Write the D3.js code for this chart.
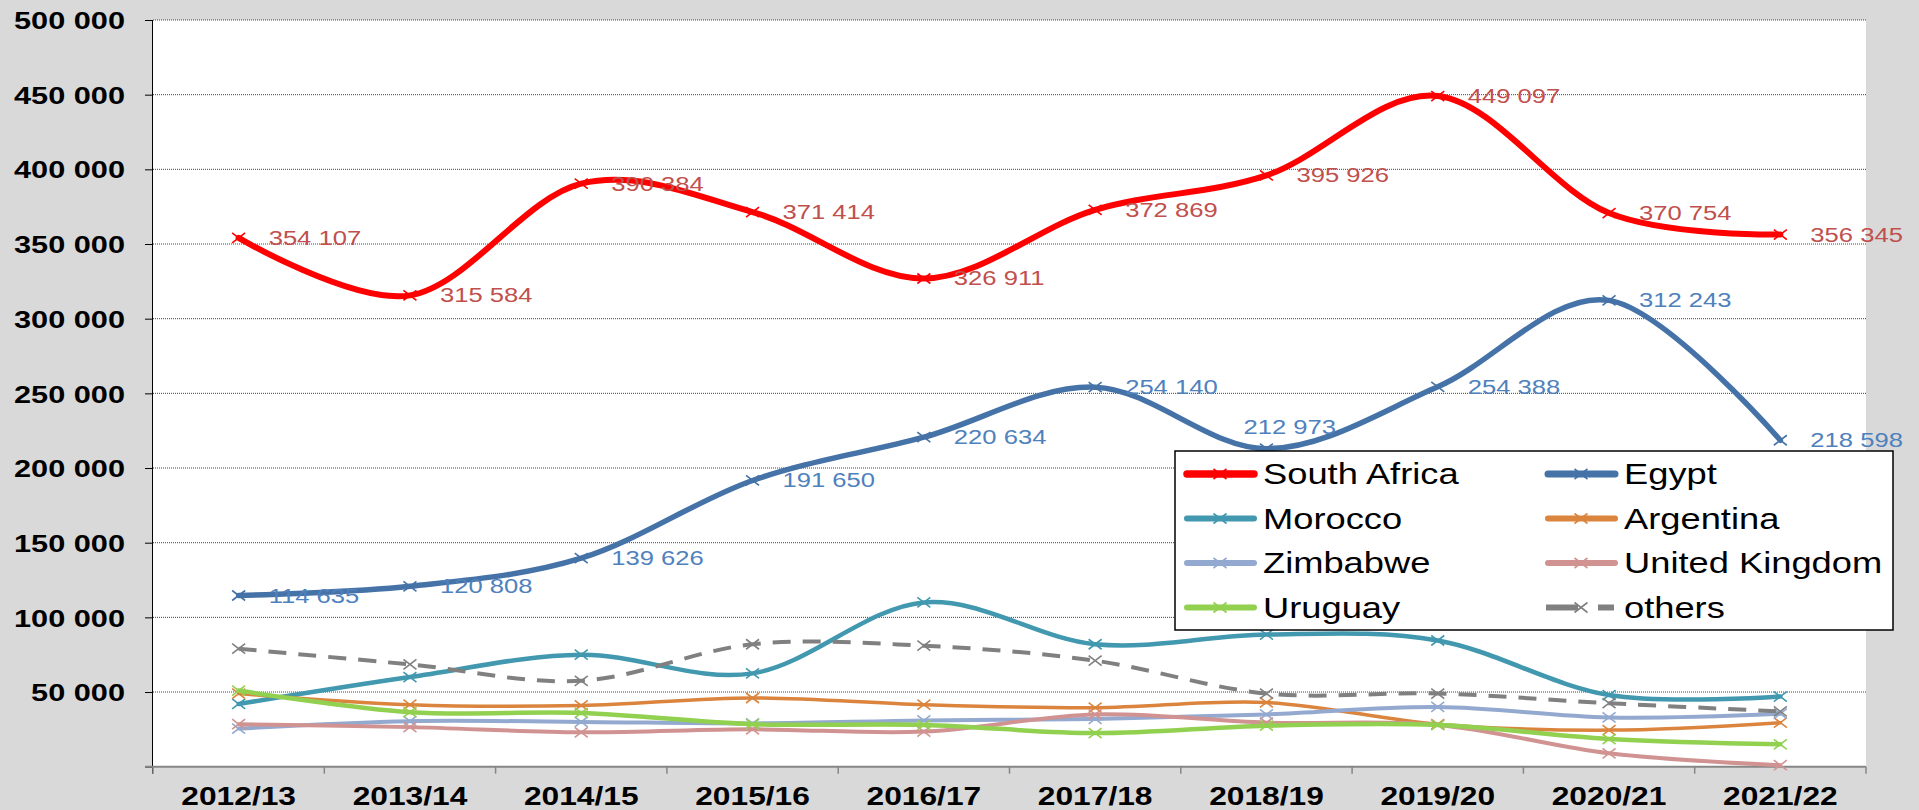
<!DOCTYPE html>
<html>
<head>
<meta charset="utf-8">
<script src="https://cdn.jsdelivr.net/npm/d3@7"></script>
<style>
  body { margin: 0; background: #d9d9d9; }
  svg { display: block; font-family: "Liberation Sans", Arial, sans-serif; }
</style>
</head>
<body>
<svg id="chart" width="1919" height="810"></svg>
<script>
// season labels on the x axis
const categories = ['2012/13', '2013/14', '2014/15', '2015/16', '2016/17',
  '2017/18', '2018/19', '2019/20', '2020/21', '2021/22'];

// values per series (labelled ones, others estimated)
const southAfrica = [354107, 315584, 390384, 371414, 326911, 372869, 395926, 449097, 370754, 356345];
const egypt = [114635, 120808, 139626, 191650, 220634, 254140, 212973, 254388, 312243, 218598];
const morocco = [42000, 60000, 75000, 62500, 110000, 82000, 88500, 84500, 48000, 47000];
const argentina = [49000, 41500, 41000, 46000, 41500, 39500, 43000, 28500, 24500, 29500];
const zimbabwe = [25500, 30500, 30000, 29000, 31000, 32000, 35000, 40000, 33000, 35500];
const unitedKingdom = [28500, 26500, 23000, 25000, 23500, 35000, 29500, 28000, 9000, 1000];
const uruguay = [51000, 36500, 36000, 28500, 28000, 22500, 27500, 28000, 18500, 15000];
const others = [79000, 68500, 57500, 82000, 81000, 71000, 49000, 49000, 42500, 37000];

const yTicks = [0, 50000, 100000, 150000, 200000, 250000, 300000, 350000, 400000, 450000, 500000];

const series = [
  { name: 'South Africa', values: southAfrica, color: '#ff0000', width: 6, labels: true, labelColor: '#c0504d' },
  { name: 'Egypt', values: egypt, color: '#4572a7', width: 5.5, labels: true, labelColor: '#4f81bd' },
  { name: 'Morocco', values: morocco, color: '#4198af', width: 4.5 },
  { name: 'Argentina', values: argentina, color: '#db843d', width: 3.5 },
  { name: 'Zimbabwe', values: zimbabwe, color: '#93a9cf', width: 4 },
  { name: 'United Kingdom', values: unitedKingdom, color: '#d19392', width: 4 },
  { name: 'Uruguay', values: uruguay, color: '#92d050', width: 4.5 },
  { name: 'others', values: others, color: '#808080', width: 4, dash: '18,12' },
];

// text in the source is stretched sideways
const SX = 1.28;
const font = '"Liberation Sans", Arial, sans-serif';

const svg = d3.select('#chart');
const plotLeft = 153, plotRight = 1866, plotTop = 20, plotBottom = 766.7;
const legendBox = { x: 1175, y: 451, w: 718, h: 179 };

const x = d3.scaleBand().domain(categories).range([plotLeft, plotRight]);
const y = d3.scaleLinear().domain([0, 500000]).range([plotBottom, plotTop]);
const cx = (d) => x(d) + x.bandwidth() / 2;
const fmt = (v) => d3.format(',')(v).replace(/,/g, ' ');

// plot area
svg.append('rect')
  .attr('x', plotLeft).attr('y', plotTop)
  .attr('width', plotRight - plotLeft).attr('height', plotBottom - plotTop)
  .attr('fill', '#fff');

// gridlines
svg.append('g')
  .selectAll('line')
  .data(yTicks.filter((d) => d > 0))
  .join('line')
    .attr('x1', plotLeft).attr('x2', plotRight)
    .attr('y1', (d) => y(d)).attr('y2', (d) => y(d))
    .attr('stroke', '#444')
    .attr('stroke-width', 1)
    .attr('stroke-dasharray', '1,1');

// y axis (no label at zero, as in the source)
const yAxis = svg.append('g')
  .attr('transform', `translate(${plotLeft},0)`)
  .call(d3.axisLeft(y).tickValues(yTicks).tickSize(8).tickFormat((d) => (d === 0 ? '' : fmt(d))));
yAxis.select('.domain').attr('stroke', '#000').attr('d', `M-0.5,${plotTop}V${plotBottom + 7}`);
yAxis.selectAll('.tick line').attr('stroke', '#000');
yAxis.selectAll('.tick text')
  .attr('x', null).attr('dy', '0.36em')
  .attr('transform', `translate(-28,0) scale(${SX},1)`)
  .attr('text-anchor', 'end')
  .attr('font-family', font)
  .attr('font-size', 24)
  .attr('font-weight', 'bold')
  .attr('fill', '#000');

// x axis: line, ticks at band edges, labels centred
const bounds = categories.map((d) => x(d)).concat([plotRight]);
svg.append('line')
  .attr('x1', plotLeft - 8).attr('x2', plotRight)
  .attr('y1', plotBottom).attr('y2', plotBottom)
  .attr('stroke', '#868686').attr('stroke-width', 2);
svg.append('g')
  .selectAll('line')
  .data(bounds)
  .join('line')
    .attr('x1', (d) => d).attr('x2', (d) => d)
    .attr('y1', plotBottom).attr('y2', plotBottom + 7)
    .attr('stroke', '#868686').attr('stroke-width', 1.5);
svg.append('g')
  .selectAll('text')
  .data(categories)
  .join('text')
    .attr('transform', (d) => `translate(${cx(d)},805) scale(1.22,1)`)
    .attr('text-anchor', 'middle')
    .attr('font-family', font)
    .attr('font-size', 26)
    .attr('font-weight', 'bold')
    .attr('fill', '#000')
    .text((d) => d);

// series lines
const line = d3.line()
  .x((d, i) => cx(categories[i]))
  .y((d) => y(d))
  .curve(d3.curveCardinal.tension(0));

function crossPath(px, py, hw, hh) {
  return `M${px - hw},${py - hh}L${px + hw},${py + hh}M${px - hw},${py + hh}L${px + hw},${py - hh}`;
}

const drawOrder = series.slice(2).concat(series.slice(0, 2));
drawOrder.forEach((s) => {
  const g = svg.append('g');
  g.append('path')
    .attr('d', line(s.values))
    .attr('fill', 'none')
    .attr('stroke', s.color)
    .attr('stroke-width', s.width)
    .attr('stroke-linecap', s.dash ? 'butt' : 'round')
    .attr('stroke-dasharray', s.dash || null);
  g.selectAll('path.marker')
    .data(s.values)
    .join('path')
      .attr('class', 'marker')
      .attr('d', (d, i) => crossPath(cx(categories[i]), y(d), 6.5, 5))
      .attr('stroke', s.color)
      .attr('stroke-width', 1.6)
      .attr('fill', 'none');
});

// data labels: right of the point, or above it when the legend is in the way
function labelPos(v, i) {
  const px = cx(categories[i]);
  const py = y(v);
  const hitsLegend = px + 30 < legendBox.x + legendBox.w && px + 125 > legendBox.x &&
    py + 10 > legendBox.y && py - 10 < legendBox.y + legendBox.h;
  return hitsLegend ? [px - 23, py - 15] : [px + 30, py + 7];
}

series.filter((s) => s.labels).forEach((s) => {
  svg.append('g')
    .selectAll('text')
    .data(s.values)
    .join('text')
      .attr('transform', (d, i) => {
        const [lx, ly] = labelPos(d, i);
        return `translate(${lx},${ly}) scale(${SX},1)`;
      })
      .attr('font-family', font)
      .attr('font-size', 20)
      .attr('fill', s.labelColor)
      .text((d) => fmt(d));
});

// legend
const legend = svg.append('g');
legend.append('rect')
  .attr('x', legendBox.x).attr('y', legendBox.y)
  .attr('width', legendBox.w).attr('height', legendBox.h)
  .attr('fill', '#fff')
  .attr('stroke', '#000')
  .attr('stroke-width', 1.5);

series.forEach((s, i) => {
  const col = i % 2;
  const row = Math.floor(i / 2);
  const lx = col === 0 ? 1185 : 1546;
  const ly = 474 + row * 44.5;
  const item = legend.append('g');
  if (s.dash) {
    item.append('line')
      .attr('x1', lx).attr('x2', lx + 32).attr('y1', ly).attr('y2', ly)
      .attr('stroke', s.color).attr('stroke-width', 6);
    item.append('line')
      .attr('x1', lx + 52).attr('x2', lx + 68).attr('y1', ly).attr('y2', ly)
      .attr('stroke', s.color).attr('stroke-width', 6);
  } else {
    item.append('line')
      .attr('x1', lx + 2).attr('x2', lx + 69).attr('y1', ly).attr('y2', ly)
      .attr('stroke', s.color).attr('stroke-width', Math.max(6, s.width + 1.5))
      .attr('stroke-linecap', 'round');
  }
  item.append('path')
    .attr('d', crossPath(lx + 35, ly, 6.5, 5))
    .attr('stroke', s.color).attr('stroke-width', 1.6).attr('fill', 'none');
  item.append('text')
    .attr('transform', `translate(${lx + 78},${ly + 10}) scale(1.21,1)`)
    .attr('font-family', font)
    .attr('font-size', 30)
    .attr('fill', '#000')
    .text(s.name);
});
</script>
</body>
</html>
